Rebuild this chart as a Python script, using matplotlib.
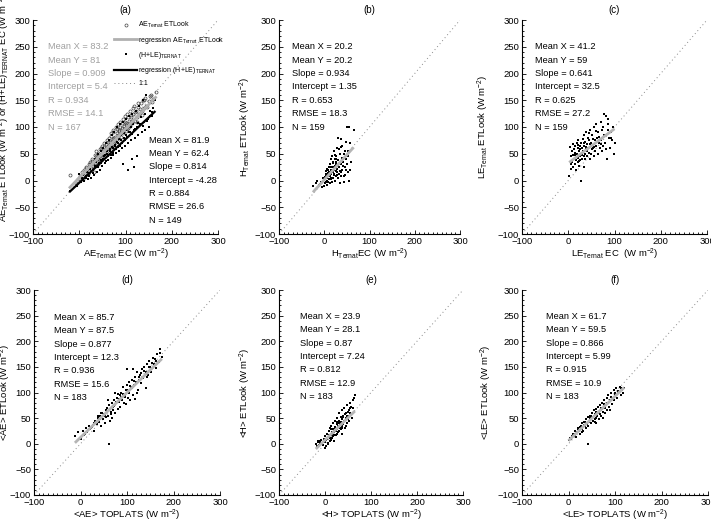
import matplotlib
matplotlib.use("Agg")
import matplotlib.pyplot as plt
from matplotlib.ticker import MultipleLocator
import numpy as np

plt.rcParams['font.family'] = ['Liberation Sans', 'DejaVu Sans']
plt.rcParams['mathtext.fontset'] = 'custom'
plt.rcParams['mathtext.rm'] = 'Liberation Sans'
plt.rcParams['mathtext.it'] = 'Liberation Sans:italic'
plt.rcParams['mathtext.bf'] = 'Liberation Sans:bold'

# ---------------- data ----------------
# (a) AE_Ternat ETLook (circles) vs AE_Ternat EC
a_ae_x = [-20, -8, -3, 2, 5, 8, 10, 12, 15, 18, 20, 22, 24, 26, 28, 30, 31, 33, 35, 37, 38, 40, 42, 44, 45, 47, 49,
          50, 52, 54, 55, 57, 59, 60, 62, 64, 65, 67, 69, 70, 72, 74, 75, 77, 79, 80, 82, 84, 85, 87, 89, 90, 92, 94,
          95, 97, 99, 100, 102, 104, 105, 107, 109, 110, 112, 115, 117, 119, 120, 123, 125, 128, 130, 133, 135, 138,
          140, 143, 145, 150, 155, 160, 165,
          14, 19, 23, 27, 29, 34, 36, 41, 43, 46, 51, 53, 56, 58, 61, 63, 66, 68, 71, 73, 76, 78, 81, 83, 86, 88, 91,
          93, 96, 98, 101, 103, 106, 108, 111, 114, 116, 121, 124, 127, 131, 136, 141, 147, 152, 158]
a_ae_y = [10, -5, 3, 8, 15, 2, 20, 10, 25, 12, 30, 18, 35, 22, 40, 28, 15, 48, 32, 55, 40, 30, 45, 58, 38, 50, 65,
          42, 55, 70, 48, 60, 75, 52, 65, 80, 58, 72, 88, 62, 78, 95, 68, 82, 100, 72, 88, 105, 78, 92, 110, 82, 98, 115,
          88, 102, 120, 92, 108, 125, 98, 112, 130, 102, 118, 108, 125, 140, 112, 130, 118, 138, 125, 145, 130, 150,
          135, 155, 140, 148, 160, 152, 165,
          24, 14, 30, 37, 33, 28, 45, 52, 36, 60, 47, 62, 57, 68, 58, 72, 66, 84, 73, 90, 80, 74, 96, 85, 94, 100, 88,
          108, 97, 110, 104, 96, 118, 106, 123, 112, 135, 128, 110, 145, 133, 122, 150, 138, 158, 146]
# (a) (H+LE)_TERNAT EC (squares) vs AE_Ternat EC
a_hle_x = [-20, -5, 0, 3, 6, 10, 12, 15, 18, 20, 22, 25, 27, 30, 32, 34, 36, 38, 40, 42, 44, 46, 48, 50, 52, 54, 56,
           58, 60, 62, 64, 66, 68, 70, 72, 74, 76, 78, 80, 82, 84, 86, 88, 90, 92, 94, 96, 98, 100, 102, 105, 106, 108,
           110, 112, 115, 118, 118, 120, 122, 125, 128, 130, 132, 135, 138, 140, 143, 145, 148, 150, 153, 155, 158,
           160, 163, 115, 95, 125,
           8, 14, 17, 21, 24, 29, 33, 37, 41, 43, 47, 51, 55, 57, 61, 63, 67, 69, 71, 73, 77, 79, 81, 83, 87, 89, 91,
           93, 97, 99, 101, 104, 107, 111, 113, 117, 121, 127, 133, 137, 142, 147, 152, 157]
a_hle_y = [-20, -10, 12, -3, 5, 0, 18, 8, 2, 25, 14, 5, 30, 20, 10, 40, 25, 15, 50, 32, 20, 55, 38, 28, 60, 45, 32,
           70, 50, 38, 75, 55, 42, 85, 60, 48, 90, 65, 52, 100, 70, 55, 105, 75, 60, 110, 80, 65, 115, 85, 20, 70, 120,
           90, 75, 125, 25, 95, 80, 130, 100, 85, 140, 105, 90, 150, 110, 95, 160, 115, 100, 130, 145, 120, 135, 150,
           40, 30, 45,
           10, 4, 15, 9, 22, 14, 28, 35, 25, 42, 33, 40, 48, 36, 55, 46, 58, 48, 62, 52, 66, 58, 72, 62, 78, 65, 85,
           70, 88, 76, 95, 82, 90, 100, 86, 105, 96, 108, 118, 102, 125, 112, 120, 128]
# (b) H
b_x = [-25, -18, -12, -8, -5, -3, 0, 0, 2, 3, 4, 5, 5, 6, 7, 8, 8, 9, 10, 10, 11, 12, 12, 13, 14, 15, 15, 16, 17, 18,
       18, 19, 20, 20, 21, 22, 22, 23, 24, 25, 25, 26, 27, 28, 28, 29, 30, 30, 31, 32, 33, 34, 35, 35, 36, 37, 38, 39,
       40, 40, 42, 43, 44, 45, 46, 47, 48, 50, 50, 52, 53, 55, 55, 58, 60, 65, 57, 45, 25, 20, 15, 10, 30,
       1, 4, 6, 9, 11, 13, 16, 19, 21, 24, 26, 29, 32, 34, 37, 41, 44, 3, 14, 23, 27, 36, 48, 52, -10, -15]
b_y = [-10, -5, -8, -3, -12, 5, -10, 2, -5, 8, 18, 0, 12, -8, 5, 20, -2, 10, 25, 3, 15, -5, 30, 8, 18, 40, 2, 12, 25,
       -3, 45, 15, 5, 35, 20, 10, 55, 28, 0, 18, 45, 8, 30, 60, 15, 22, 80, 5, 38, 12, 25, 50, -5, 18, 78, 30, 8, 42,
       20, 65, 35, -2, 50, 25, 10, 40, 72, 30, 100, 15, 45, 100, 0, 20, 35, 95, 70, 55, 35, 25, 20, 15, 28,
       6, -2, 22, 14, 8, 26, 5, 32, 12, 40, 24, 10, 58, 33, 16, 28, 8, 12, 2, 48, 40, 62, 20, 55, -6, 0]
# (c) LE
c_x = [2, 3, 5, 6, 7, 8, 9, 10, 10, 12, 13, 14, 15, 15, 16, 17, 18, 19, 20, 20, 21, 22, 23, 24, 25, 25, 26, 27, 28,
       28, 30, 30, 31, 32, 33, 34, 35, 35, 36, 37, 38, 39, 40, 40, 42, 43, 44, 45, 46, 47, 48, 50, 50, 52, 53, 55, 55,
       57, 58, 60, 60, 62, 64, 65, 66, 68, 70, 70, 72, 74, 75, 78, 80, 82, 84, 85, 87, 88, 90, 95, 98, 100, 92, 78,
       11, 14, 18, 21, 24, 26, 29, 33, 36, 39, 41, 44, 47, 51, 54, 56, 59, 63, 67, 71, 76, 81, 86, 93, 97]
c_y = [8, 62, 30, 45, 22, 55, 35, 68, 25, 40, 58, 30, 65, 48, 20, 38, 70, 50, 35, 60, 42, 75, 28, 55, 45, 65, 38, 0,
       70, 50, 60, 40, 78, 55, 45, 85, 65, 25, 50, 72, 90, 58, 68, 45, 80, 60, 52, 75, 40, 95, 62, 70, 50, 85, 60, 45,
       100, 75, 55, 105, 65, 80, 50, 90, 70, 60, 110, 75, 55, 95, 65, 85, 70, 120, 40, 105, 115, 80, 60, 75, 50, 70,
       90, 125,
       48, 52, 44, 66, 36, 58, 48, 70, 40, 62, 55, 88, 68, 58, 78, 62, 92, 72, 82, 68, 100, 58, 95, 80, 100]
# (d) <AE>
d_x = [-12, -5, 0, 5, 8, 12, 15, 18, 20, 25, 28, 30, 32, 35, 38, 40, 42, 44, 45, 48, 50, 52, 54, 55, 58, 60, 62, 62,
       64, 65, 67, 68, 70, 72, 74, 75, 78, 80, 80, 82, 85, 86, 88, 90, 92, 94, 95, 97, 98, 100, 102, 104, 105, 107,
       108, 110, 112, 113, 115, 117, 118, 120, 122, 124, 125, 128, 130, 132, 135, 137, 140, 140, 142, 145, 148, 150,
       152, 155, 158, 160, 162, 165, 168, 172, 175, 100, 75, 60,
       10, 22, 27, 33, 37, 43, 47, 53, 57, 63, 66, 69, 73, 77, 83, 87, 91, 96, 101, 106, 111, 116, 121, 126, 131,
       136, 143, 147, 153, 163, 170]
d_y = [15, 22, 10, 25, 18, 30, 22, 35, 28, 32, 40, 25, 45, 38, 50, 42, 55, 35, 60, 48, 58, 40, 65, 52, 70, 55, 0, 75,
       45, 62, 80, 50, 72, 85, 60, 78, 90, 68, 98, 82, 95, 72, 100, 85, 110, 80, 95, 105, 78, 115, 90, 100, 120, 85,
       110, 125, 95, 145, 115, 130, 88, 120, 140, 105, 125, 135, 118, 145, 128, 150, 108, 140, 155, 135, 162, 150,
       140, 168, 155, 165, 148, 175, 160, 185, 170, 145, 100, 85,
       20, 30, 36, 42, 54, 48, 60, 55, 62, 68, 58, 66, 74, 82, 88, 92, 98, 92, 105, 112, 108, 122, 100, 130, 138,
       142, 130, 150, 158, 162, 178]
# (e) <H>
e_x = [-20, -18, -15, -12, -10, -8, -5, -3, 0, 0, 2, 3, 5, 5, 7, 8, 8, 10, 10, 12, 13, 14, 15, 15, 17, 18, 18, 20,
       20, 22, 22, 23, 25, 25, 26, 27, 28, 30, 30, 31, 32, 33, 34, 35, 36, 37, 38, 40, 40, 42, 42, 44, 45, 46, 48, 48,
       50, 52, 53, 55, 55, 58, 60, 62, 65, 60, 35, 28, 20, 12, 45, 50, 38,
       -16, -11, -6, -1, 4, 6, 9, 11, 16, 19, 21, 24, 29, 33, 36, 39, 41, 43, 47, 51, 54, 57, 1, 14, 26]
e_y = [0, -5, 5, -3, 2, 8, -2, 10, 3, 15, -5, 8, 20, 12, 0, 25, 15, 5, 30, 18, 8, 35, 22, 12, 28, 40, 15, 25, 5, 45,
       32, 18, 38, 28, 50, 20, 35, 45, 25, 60, 38, 30, 52, 42, 20, 65, 48, 38, 55, 70, 45, 30, 60, 50, 75, 40, 55, 65,
       45, 80, 60, 50, 70, 90, 95, 85, 28, 22, 18, 10, 35, 48, 30,
       3, 6, 0, 6, 10, 2, 18, 12, 18, 22, 30, 25, 40, 42, 35, 52, 44, 58, 55, 62, 70, 72, -8, 28, 42]
# (f) <LE>
f_x = [0, 3, 5, 8, 10, 12, 15, 15, 18, 20, 22, 24, 25, 27, 28, 30, 30, 32, 34, 35, 37, 38, 40, 42, 42, 43, 45, 46, 48,
       50, 50, 52, 54, 55, 56, 58, 60, 60, 62, 64, 65, 66, 68, 70, 70, 72, 74, 75, 77, 78, 80, 82, 82, 85, 86, 88, 90,
       92, 94, 95, 97, 98, 100, 102, 105, 107, 110, 112, 115, 118, 120, 90, 75, 60,
       6, 13, 17, 21, 26, 29, 33, 36, 39, 44, 47, 49, 53, 57, 59, 63, 67, 69, 73, 76, 79, 83, 87, 91, 96, 101, 106,
       113]
f_y = [8, 12, 10, 15, 20, 15, 25, 18, 22, 30, 25, 32, 20, 35, 28, 40, 30, 25, 42, 35, 30, 48, 40, 0, 52, 35, 45, 55,
       40, 50, 60, 45, 55, 65, 42, 58, 68, 50, 55, 72, 48, 60, 75, 65, 55, 80, 62, 70, 85, 60, 75, 90, 65, 80, 95, 72,
       85, 100, 78, 90, 105, 85, 95, 108, 90, 100, 110, 95, 105, 100, 108, 65, 50, 40,
       12, 20, 14, 28, 30, 22, 36, 42, 38, 42, 50, 55, 52, 48, 62, 60, 58, 70, 68, 78, 70, 80, 82, 92, 88, 100, 102,
       108]

# statistics shown in each panel
a_ae_stats = ["Mean X = 83.2", "Mean Y = 81", "Slope = 0.909", "Intercept = 5.4", "R = 0.934", "RMSE = 14.1", "N = 167"]
a_hle_stats = ["Mean X = 81.9", "Mean Y = 62.4", "Slope = 0.814", "Intercept = -4.28", "R = 0.884", "RMSE = 26.6", "N = 149"]
b_stats = ["Mean X = 20.2", "Mean Y = 20.2", "Slope = 0.934", "Intercept = 1.35", "R = 0.653", "RMSE = 18.3", "N = 159"]
c_stats = ["Mean X = 41.2", "Mean Y = 59", "Slope = 0.641", "Intercept = 32.5", "R = 0.625", "RMSE = 27.2", "N = 159"]
d_stats = ["Mean X = 85.7", "Mean Y = 87.5", "Slope = 0.877", "Intercept = 12.3", "R = 0.936", "RMSE = 15.6", "N = 183"]
e_stats = ["Mean X = 23.9", "Mean Y = 28.1", "Slope = 0.87", "Intercept = 7.24", "R = 0.812", "RMSE = 12.9", "N = 183"]
f_stats = ["Mean X = 61.7", "Mean Y = 59.5", "Slope = 0.866", "Intercept = 5.99", "R = 0.915", "RMSE = 10.9", "N = 183"]

# regression coefficients (slope, intercept)
a_ae_fit = (0.909, 5.4)
a_hle_fit = (0.814, -4.28)
b_fit = (0.934, 1.35)
c_fit = (0.641, 32.5)
d_fit = (0.877, 12.3)
e_fit = (0.87, 7.24)
f_fit = (0.866, 5.99)

titles = ["(a)", "(b)", "(c)", "(d)", "(e)", "(f)"]
xlabels = [r'AE$_{\mathrm{Ternat}}$ EC (W m$^{-2}$)',
           r'H$_{\mathrm{Ternat}}$EC (W m$^{-2}$)',
           r'LE$_{\mathrm{Ternat}}$ EC  (W m$^{-2}$)',
           r'<AE> TOPLATS (W m$^{-2}$)',
           r'<H> TOPLATS (W m$^{-2}$)',
           r'<LE> TOPLATS (W m$^{-2}$)']
ylabels = [r'AE$_{\mathrm{Ternat}}$ ETLook (W m$^{-2}$) or (H+LE)$_{\mathrm{TERNAT}}$ EC (W m$^{-2}$)',
           r'H$_{\mathrm{Ternat}}$ ETLook (W m$^{-2}$)',
           r'LE$_{\mathrm{Ternat}}$ ETLook (W m$^{-2}$)',
           r'<AE> ETLook (W m$^{-2}$)',
           r'<H> ETLook (W m$^{-2}$)',
           r'<LE> ETLook (W m$^{-2}$)']

# ---------------- figure ----------------
W, H = 711, 523
fig = plt.figure(figsize=(W / 100, H / 100), dpi=100)

# axes pixel boxes: (left, right, top, bottom)
boxes = [(33, 218, 20, 234), (279, 460, 20, 234), (522, 707, 20, 234),
         (34, 220, 290, 495), (279, 463, 290, 495), (522, 708, 290, 495)]
ylab_x_px = [12, 253, 491, 13, 253, 494]
ylab_y = [0.59, 0.5, 0.5, 0.5, 0.5, 0.5]
# stats text positions (data coords: left x, top y)
stat_pos = [(-68, 258), (-71, 258), (-72, 258), (-57, 255), (-54, 257), (-48, 257)]

axes = []
for i, (l, r, t, b) in enumerate(boxes):
    ax = fig.add_axes([l / W, 1 - b / H, (r - l) / W, (b - t) / H])
    axes.append(ax)
    ax.set_xlim(-100, 300)
    ax.set_ylim(-100, 300)
    for s in ['top', 'right']:
        ax.spines[s].set_visible(False)
    for s in ['left', 'bottom']:
        ax.spines[s].set_linewidth(0.8)
    ax.xaxis.set_major_locator(MultipleLocator(100))
    ax.yaxis.set_major_locator(MultipleLocator(50))
    ax.xaxis.set_minor_locator(MultipleLocator(10))
    ax.yaxis.set_minor_locator(MultipleLocator(10))
    ax.tick_params(which='both', direction='in', labelsize=6.8, pad=2, width=0.6)
    ax.tick_params(which='major', length=3)
    ax.tick_params(which='minor', length=1.5)
    ax.plot([-100, 300], [-100, 300], color='#888888', lw=0.7, ls=(0, (1, 3)), zorder=1, label='1:1')
    ax.set_xlabel(xlabels[i], fontsize=6.8)
    ax.set_ylabel(ylabels[i], fontsize=6.8)
    hpx = b - t
    wpx = r - l
    ax.xaxis.set_label_coords(0.5, -12.5 / hpx)
    ax.yaxis.set_label_coords((ylab_x_px[i] - l) / wpx, ylab_y[i])
    ax.text(0.5, 1 + 10.0 / hpx, titles[i], transform=ax.transAxes, ha='center', va='center', fontsize=7)

def reg_line(ax, xs, fit, color, lw, z=3, label=None):
    xx = np.array([min(xs), max(xs)])
    ax.plot(xx, fit[0] * xx + fit[1], color=color, lw=lw, zorder=z, label=label, solid_capstyle='butt')

def stats_text(ax, pos, lines, color='black'):
    ax.text(pos[0], pos[1], "\n".join(lines), ha='left', va='top', fontsize=6.7,
            color=color, linespacing=1.62, zorder=5)

# (a)
ax = axes[0]
h_ae, = ax.plot(a_ae_x, a_ae_y, ls='none', marker='o', ms=2.2, mfc='none', mec='#444444', mew=0.5, zorder=2)
h_hle, = ax.plot(a_hle_x, a_hle_y, ls='none', marker='s', ms=1.7, mfc='black', mec='black', mew=0, zorder=2)
xx = np.array([min(a_ae_x), max(a_ae_x)])
h_rae, = ax.plot(xx, a_ae_fit[0] * xx + a_ae_fit[1], color='#b0b0b0', lw=2, zorder=3)
xx2 = np.array([min(a_hle_x), max(a_hle_x)])
h_rhle, = ax.plot(xx2, a_hle_fit[0] * xx2 + a_hle_fit[1], color='black', lw=1.6, zorder=3)
h_11 = ax.lines[0]
stats_text(ax, stat_pos[0], a_ae_stats, color='#a0a0a0')
stats_text(ax, (151, 84), a_hle_stats)
leg = ax.legend([h_ae, h_rae, h_hle, h_rhle, h_11],
                [r'AE$_{\mathrm{Ternat}}$ ETLook', r'regression AE$_{\mathrm{Ternat}}$ ETLook',
                 r'(H+LE)$_{\mathrm{TERNAT}}$', r'regression (H+LE)$_{\mathrm{TERNAT}}$', '1:1'],
                loc='upper left', bbox_to_anchor=(0.44, 1.0), frameon=False, fontsize=5,
                handlelength=3.2, handletextpad=0.2, labelspacing=0.62, borderpad=0, borderaxespad=0)
leg.set_zorder(6)

# (b)-(f)
others = [(b_x, b_y, b_fit, b_stats), (c_x, c_y, c_fit, c_stats), (d_x, d_y, d_fit, d_stats),
          (e_x, e_y, e_fit, e_stats), (f_x, f_y, f_fit, f_stats)]
for k, (xs, ys, fit, st) in enumerate(others):
    ax = axes[k + 1]
    ax.plot(xs, ys, ls='none', marker='s', ms=1.7, mfc='black', mec='black', mew=0, zorder=2)
    reg_line(ax, xs, fit, '#b5b5b5', 2.0)
    stats_text(ax, stat_pos[k + 1], st)

fig.savefig("out.png", dpi=100)
